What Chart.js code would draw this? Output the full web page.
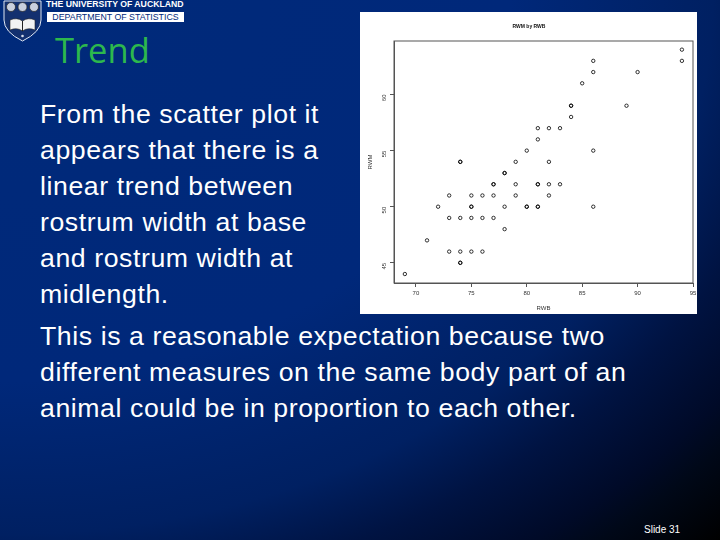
<!DOCTYPE html>
<html>
<head>
<meta charset="utf-8">
<script src="https://cdn.jsdelivr.net/npm/chart.js@4"></script>
<style>
  html, body { margin: 0; padding: 0; }
  body {
    position: relative; width: 720px; height: 540px; overflow: hidden;
    background: radial-gradient(ellipse farthest-corner at 0 0, #002a7a 0%, #00287a 50%, #002062 70%, #001342 79%, #000a28 88%, #000818 92%, #000 100%);
    font-family: "Liberation Sans", Arial, sans-serif; color: #fff;
  }
  #panel { position: absolute; left: 360px; top: 12px; width: 337px; height: 302px; background: #fff; overflow: hidden; }
  #chart { filter: blur(0.35px); }
  #logo { position: absolute; left: 3px; top: 0; }
  .uni { position: absolute; left: 46px; top: -1px; font: bold 8.7px/10px "Liberation Sans", Arial, sans-serif; white-space: nowrap; }
  .dept { position: absolute; left: 47px; top: 12px; width: 137px; height: 10px; background: #fff; color: #002a7a; font: 8.8px/10px "Liberation Sans", Arial, sans-serif; text-align: center; white-space: nowrap; }
  h1 { position: absolute; left: 55px; top: 30px; margin: 0; font: 34.5px/40px "Open Sans", sans-serif; color: #2db84d; }
  .body { position: absolute; left: 40px; font-size: 26.67px; line-height: 36px; letter-spacing: 0.58px; white-space: nowrap; }
  .slide { position: absolute; left: 644px; top: 524px; font-size: 10px; }
</style>
</head>
<body>
<svg id="logo" width="40" height="42" viewBox="0 0 40 42">
  <path d="M1 1 H38 V20 Q38 32 19.5 41 Q1 32 1 20 Z" fill="#13306f" stroke="#dfe6f2" stroke-width="1"/>
  <circle cx="8" cy="7" r="4.5" fill="#c9d0de" stroke="#222" stroke-width="0.7"/><circle cx="19.5" cy="7" r="4.5" fill="#c9d0de" stroke="#222" stroke-width="0.7"/><circle cx="31" cy="7" r="4.5" fill="#c9d0de" stroke="#222" stroke-width="0.7"/>
  <path d="M7 20 Q14 17 19.5 21 Q25 17 32 20 V30 Q25 27 19.5 31 Q14 27 7 30 Z" fill="#f2f2f2" stroke="#222" stroke-width="0.6"/>
  <path d="M19.5 21 V31" stroke="#222" stroke-width="1"/>
  <circle cx="19.5" cy="36" r="1.3" fill="#d8dde8"/>
</svg>
<div class="uni">THE UNIVERSITY OF AUCKLAND</div>
<div class="dept">DEPARTMENT OF STATISTICS</div>
<h1>Trend</h1>
<div class="body" style="top:96px">From the scatter plot it<br>appears that there is a<br>linear trend between<br>rostrum width at base<br>and rostrum width at<br>midlength.</div>
<div class="body" style="top:318px">This is a reasonable expectation because two<br>different measures on the same body part of an<br>animal could be in proportion to each other.</div>
<div class="slide">Slide 31</div>
<div id="panel"><canvas id="chart" width="338" height="302"></canvas></div>
<script>
// RWB / RWM, one entry per circle (repeats show up darker)
const rwb = [94,94,86,86,90,85,84,84,89,84,81,82,83,81,80,86,74,74,79,82,78,78,
  77,77,79,81,81,82,83,73,75,76,77,79,82,72,75,75,78,80,80,81,81,86,73,74,75,76,77,78,71,73,74,75,76,74,74,69];
const rwm = [64,63,63,62,62,61,59,59,59,58,57,57,57,56,55,55,54,54,54,54,53,53,
  52,52,52,52,52,52,52,51,51,51,51,51,51,50,50,50,50,50,50,50,50,50,49,49,49,49,49,48,47,46,46,46,46,45,45,44];
const xTicks = [70,75,80,85,90,95];
const yTicks = [45,50,55,60];
const chartTitle = 'RWM by RWB';
const xName = 'RWB';
const yName = 'RWM';

const axisColor = '#555';
const tinyFont = { family: 'Liberation Sans', size: 6 };

function fixTicks(values) {
  return scale => { scale.ticks = values.map(v => ({ value: v })); };
}
// keep the plot box where the picture has it, no room reserved for edge labels
function fixSize(prop, size) {
  return scale => {
    scale[prop] = size;
    scale.paddingLeft = scale.paddingRight = scale.paddingTop = scale.paddingBottom = 0;
  };
}

const boxPlugin = {
  id: 'box',
  afterDraw(chart) {
    const a = chart.chartArea, c = chart.ctx;
    c.save();
    c.strokeStyle = axisColor;
    c.lineWidth = 1;
    c.strokeRect(a.left, a.top, a.right - a.left, a.bottom - a.top);
    c.restore();
  }
};

new Chart(document.getElementById('chart'), {
  type: 'scatter',
  data: {
    datasets: [{
      data: rwb.map((x, i) => ({ x, y: rwm[i] })),
      pointRadius: 1.7,
      pointBorderWidth: 1,
      pointBorderColor: 'rgba(0,0,0,0.8)',
      pointBackgroundColor: 'transparent'
    }]
  },
  options: {
    responsive: false,
    animation: false,
    layout: { padding: 0 },
    plugins: {
      legend: { display: false },
      tooltip: { enabled: false },
      title: {
        display: true, text: chartTitle, color: '#111',
        font: { family: 'Liberation Sans', size: 5, weight: 'bold' },
        padding: { top: 12, bottom: 11 }
      }
    },
    scales: {
      x: {
        min: 68.02, max: 95,
        afterBuildTicks: fixTicks(xTicks),
        afterFit: fixSize('height', 31),
        grid: { drawOnChartArea: false, tickLength: 4, color: axisColor },
        border: { color: axisColor },
        ticks: { color: '#333', font: tinyFont, maxRotation: 0, autoSkip: false, padding: 3 },
        title: { display: true, text: xName, color: '#333', font: tinyFont, padding: { top: 2, bottom: 2 } }
      },
      y: {
        min: 43.2, max: 64.77,
        afterBuildTicks: fixTicks(yTicks),
        afterFit: fixSize('width', 34),
        grid: { drawOnChartArea: false, tickLength: 4, color: axisColor },
        border: { color: axisColor },
        ticks: { color: '#333', font: tinyFont, minRotation: 90, maxRotation: 90, autoSkip: false, padding: 6 },
        title: { display: true, text: yName, color: '#333', font: tinyFont, padding: { top: 7, bottom: 0 } }
      }
    }
  },
  plugins: [boxPlugin]
});
</script>
</body>
</html>
